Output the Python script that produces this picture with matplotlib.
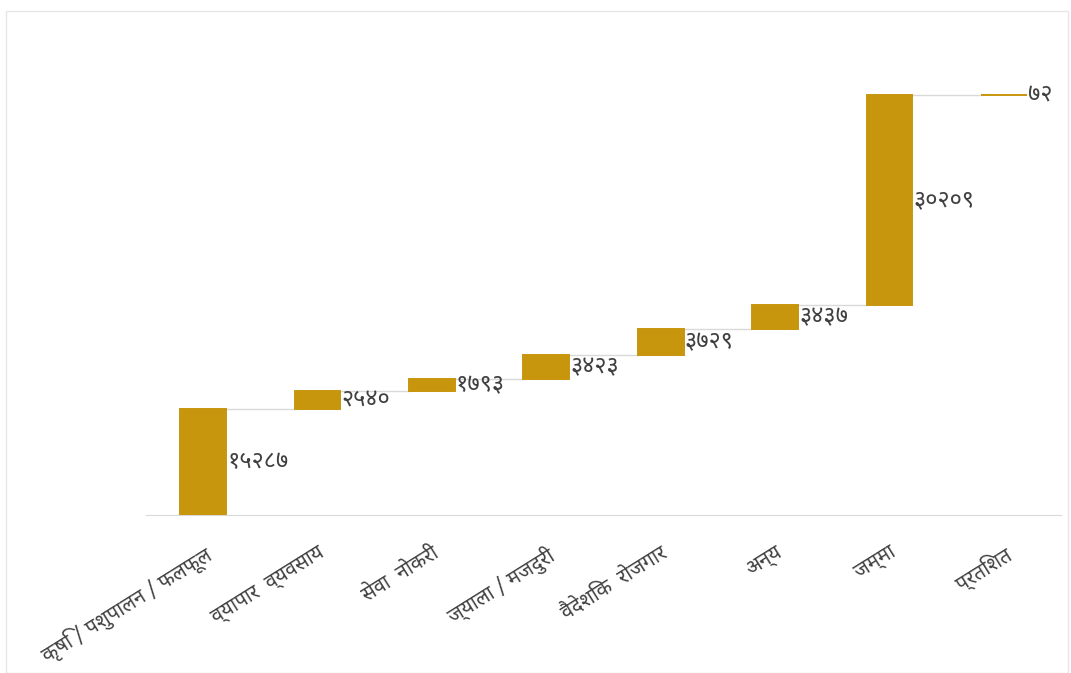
import matplotlib
matplotlib.use("Agg")
import matplotlib.pyplot as plt
from matplotlib.patches import Rectangle

DEVA = ['Noto Sans Devanagari', 'Noto Sans Devanagari UI', 'Mukta', 'Hind', 'DejaVu Sans']
plt.rcParams['font.family'] = DEVA

categories = ["कृषि / पशुपालन / फलफूल", "व्यापार  व्यवसाय", "सेवा  नोकरी",
              "ज्याला / मजदुरी", "वैदेशिक  रोजगार", "अन्य", "जम्मा", "प्रतिशत"]
values = [15287, 2540, 1793, 3423, 3729, 3437, 30209, 72]
value_labels = ["१५२८७", "२५४०", "१७९३", "३४२३", "३७२९", "३४३७", "३०२०९", "७२"]

bar_color = "#C8960C"
fig = plt.figure(figsize=(10.71, 6.73), dpi=100)
ax = fig.add_axes([0.1363, 0.2348, 0.8543, 0.723])

bottoms = []
run = 0
for v in values:
    bottoms.append(run)
    run += v
x = list(range(len(values)))
width = 0.4
ax.bar(x, values, bottom=bottoms, width=width, color=bar_color,
       edgecolor=bar_color, linewidth=1.4, zorder=3)

# connectors
for i in range(len(values) - 1):
    level = bottoms[i] + values[i]
    ax.plot([x[i] + width / 2, x[i + 1] - width / 2], [level, level],
            color="#D9D9D9", lw=1, zorder=2)

for i, (v, lab) in enumerate(zip(values, value_labels)):
    ax.text(x[i] + width / 2 + 0.01, bottoms[i] + v / 2, lab, ha="left", va="center",
            fontsize=17, color="#404040", zorder=4)

ax.set_xlim(-0.5, len(values) - 0.5)
ax.set_ylim(0, 70000)
for s in ["top", "right", "left"]:
    ax.spines[s].set_visible(False)
ax.spines["bottom"].set_color("#D9D9D9")
ax.set_yticks([])
ax.set_xticks(x)
ax.set_xticklabels(categories, rotation=32, ha="right", va="top",
                   rotation_mode="anchor", fontsize=14.5, color="#404040")
ax.tick_params(axis="x", length=0, pad=20)

fig.patches.append(Rectangle((6 / 1071, 0), 1062 / 1071, 1 - 11 / 673, transform=fig.transFigure,
                             fill=False, edgecolor="#E6E6E6", lw=1))
fig.savefig("out.png")
